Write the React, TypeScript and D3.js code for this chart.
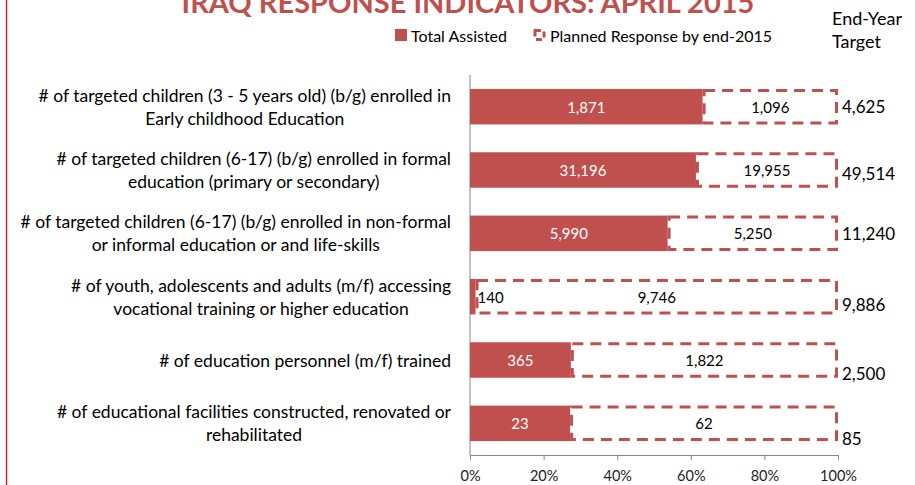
import React, { useRef, useEffect } from 'react';
import * as d3 from 'd3';

// indicator labels ("\n" = line break as in the original)
const categories = [
  '# of targeted children (3 - 5 years old) (b/g) enrolled in\nEarly childhood Education',
  '# of targeted children (6-17) (b/g) enrolled in formal\neducation (primary or secondary)',
  '# of targeted children (6-17) (b/g) enrolled in non-formal\nor informal  education or and life-skills',
  '# of youth, adolescents and adults (m/f) accessing\nvocational training or higher education',
  '# of education personnel (m/f) trained',
  '# of educational facilities constructed, renovated or\nrehabilitated',
];

// label values
const totalAssisted = [1871, 31196, 5990, 140, 365, 23];
const plannedRemaining = [1096, 19955, 5250, 9746, 1822, 62];
const endYearTarget = [4625, 49514, 11240, 9886, 2500, 85];

// share of the bar taken by "Total Assisted" (%)
const assistedShare = [63.2, 61.4, 53.7, 1.5, 27.4, 27.2];

const pctTicks = [0, 20, 40, 60, 80, 100];

const RED = '#C0504D';
const FONT = 'Lato, "Open Sans", sans-serif';

// the target labels sit a bit lower on some rows in the original
const targetNudge = [0, 3, 0, 8, 13, 15];

const W = 915;
const H = 485;

const App = () => {
  const svgRef = useRef<SVGSVGElement>(null);

  useEffect(() => {
    const svg = d3.select(svgRef.current);
    svg.selectAll('*').remove();

    const margin = { top: 75, left: 470, right: 77, bottom: 30 };
    const plotRight = W - margin.right;
    const plotBottom = H - margin.bottom;

    const x = d3.scaleLinear().domain([0, 100]).range([margin.left, plotRight]);
    const y = d3.scaleBand<number>()
      .domain(d3.range(categories.length))
      .range([margin.top, plotBottom])
      .paddingInner(0.44)
      .paddingOuter(0.22);

    const fmt = d3.format(',');

    // red page border on the left
    svg.append('line')
      .attr('x1', 6.5).attr('x2', 6.5).attr('y1', 0).attr('y2', H)
      .attr('stroke', '#d8141c').attr('stroke-width', 1.4);

    // title (clipped at the top like the original)
    svg.append('text')
      .attr('x', 468).attr('y', 13)
      .attr('text-anchor', 'middle')
      .attr('font-family', FONT).attr('font-weight', 'bold')
      .attr('font-size', 29).attr('fill', RED)
      .text('IRAQ RESPONSE INDICATORS: APRIL 2015');

    // legend
    const lg = svg.append('g').attr('font-family', FONT).attr('font-size', 16);
    lg.append('rect').attr('x', 395).attr('y', 29).attr('width', 12).attr('height', 12).attr('fill', RED);
    lg.append('text').attr('x', 411).attr('y', 35).attr('dominant-baseline', 'central').text('Total Assisted');
    lg.append('rect').attr('x', 535).attr('y', 30.5).attr('width', 9).attr('height', 9)
      .attr('fill', 'none').attr('stroke', RED).attr('stroke-width', 3)
      .attr('stroke-dasharray', '6 4');
    lg.append('text').attr('x', 550).attr('y', 35).attr('dominant-baseline', 'central').text('Planned Response by end-2015');

    lg.append('text').attr('x', 832).attr('y', 18).attr('font-size', 18).attr('dominant-baseline', 'central').text('End-Year');
    lg.append('text').attr('x', 832).attr('y', 41).attr('font-size', 18).attr('dominant-baseline', 'central').text('Target');

    // axes
    const g = svg.append('g');
    g.append('line')
      .attr('x1', margin.left).attr('x2', margin.left)
      .attr('y1', margin.top).attr('y2', plotBottom)
      .attr('stroke', '#868686');

    const xAxis = g.append('g')
      .attr('transform', `translate(0,${plotBottom})`)
      .call(d3.axisBottom(x).tickValues(pctTicks).tickFormat(d => `${d}%`).tickSizeOuter(0).tickSize(5).tickPadding(11));
    xAxis.select('.domain').attr('stroke', '#868686');
    xAxis.selectAll('line').attr('stroke', '#868686');
    xAxis.selectAll('text').attr('font-family', FONT).attr('font-size', 14.5).attr('fill', '#222');

    const bh = y.bandwidth();

    categories.forEach((cat, i) => {
      const top = y(i)!;
      const cy = top + bh / 2;
      const xEnd = x(assistedShare[i]);

      // Total Assisted
      g.append('rect')
        .attr('x', x(0)).attr('y', top)
        .attr('width', xEnd - x(0)).attr('height', bh)
        .attr('fill', RED);

      // Planned Response (dashed outline)
      g.append('rect')
        .attr('x', xEnd + 1.5).attr('y', top + 1.5)
        .attr('width', x(100) - xEnd - 3).attr('height', bh - 3)
        .attr('fill', 'none').attr('stroke', RED).attr('stroke-width', 3)
        .attr('stroke-dasharray', '11 7');

      // data labels
      const narrow = xEnd - x(0) < 30;
      g.append('text')
        .attr('x', narrow ? xEnd + 2 : (x(0) + xEnd) / 2)
        .attr('y', cy)
        .attr('text-anchor', narrow ? 'start' : 'middle')
        .attr('dominant-baseline', 'central')
        .attr('font-family', FONT).attr('font-size', 15)
        .attr('fill', narrow ? '#000' : '#fff')
        .text(fmt(totalAssisted[i]));

      g.append('text')
        .attr('x', (xEnd + x(100)) / 2)
        .attr('y', cy)
        .attr('text-anchor', 'middle')
        .attr('dominant-baseline', 'central')
        .attr('font-family', FONT).attr('font-size', 15)
        .attr('fill', '#000')
        .text(fmt(plannedRemaining[i]));

      // end-year target
      g.append('text')
        .attr('x', x(100) + 4)
        .attr('y', cy + targetNudge[i])
        .attr('dominant-baseline', 'central')
        .attr('font-family', FONT).attr('font-size', 17)
        .attr('fill', '#000')
        .text(fmt(endYearTarget[i]));

      // category label: centred lines, block right-aligned to the axis
      const lines = cat.split('\n');
      const lh = 23;
      const block = g.append('g');
      const texts = lines.map((ln, k) =>
        block.append('text')
          .attr('y', cy + (k - (lines.length - 1) / 2) * lh)
          .attr('text-anchor', 'middle')
          .attr('dominant-baseline', 'central')
          .attr('font-family', FONT).attr('font-size', 17.5)
          .attr('fill', '#000')
          .text(ln)
      );
      const maxW = d3.max(texts, t => (t.node() as SVGTextElement).getComputedTextLength()) || 0;
      texts.forEach(t => t.attr('x', margin.left - 19 - maxW / 2));
    });
  }, []);

  return (
    <svg
      ref={svgRef}
      width={W}
      height={H}
      style={{ position: 'absolute', left: 0, top: 0, background: '#fff' }}
    />
  );
};

export default App;
